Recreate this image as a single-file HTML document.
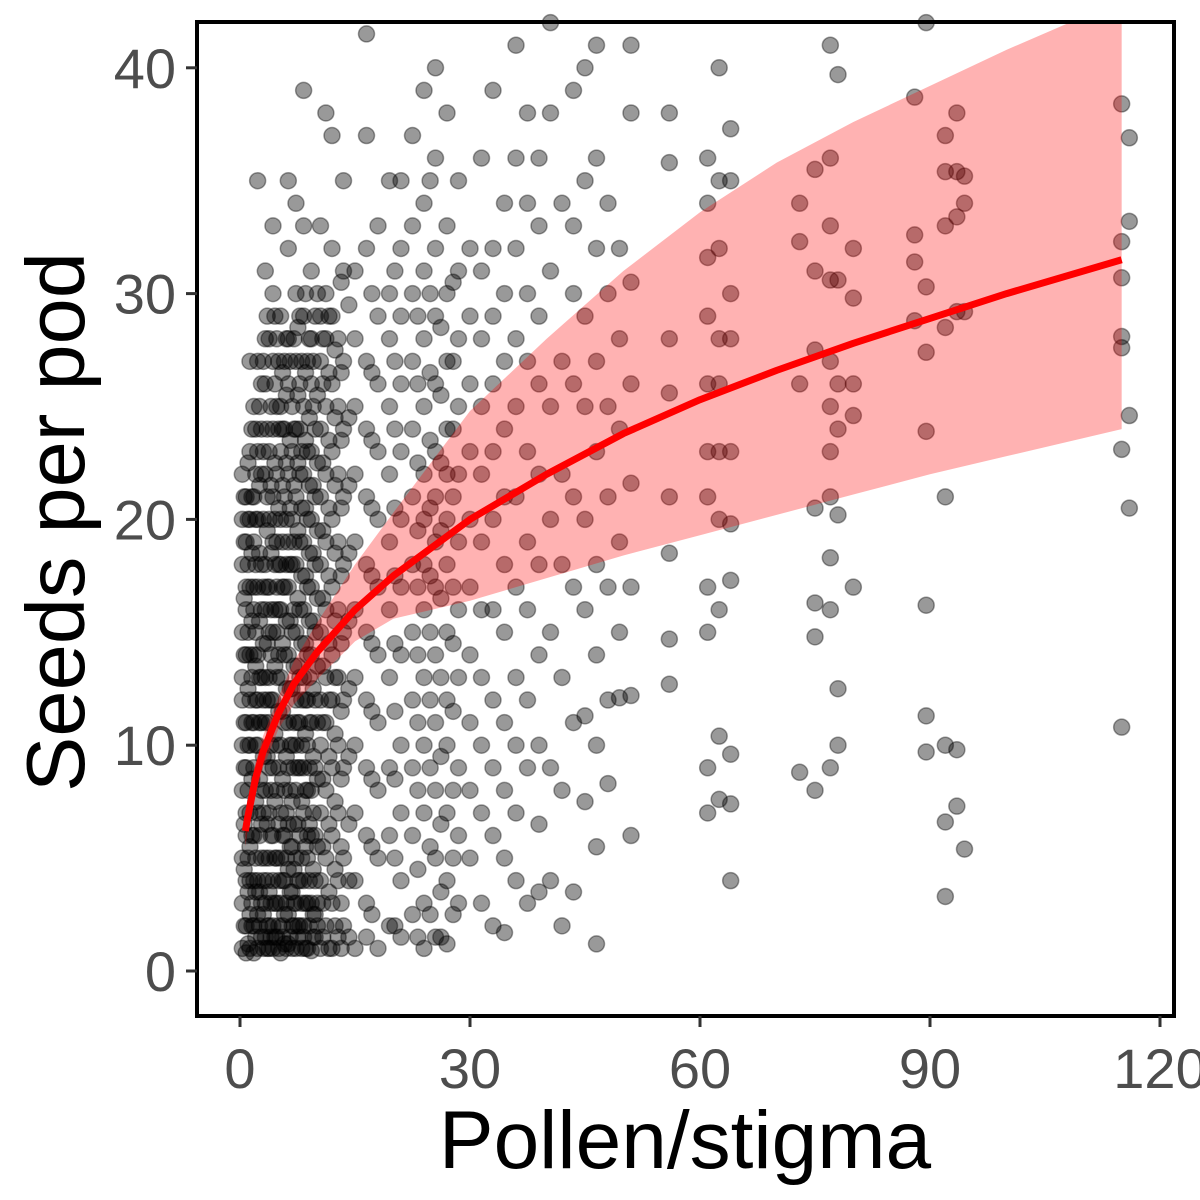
<!DOCTYPE html>
<html><head><meta charset="utf-8"><style>
html,body{margin:0;padding:0;background:#fff;}
svg{display:block;font-family:"Liberation Sans",Arial,sans-serif;}
</style></head><body>
<svg id="chart" width="1200" height="1200" viewBox="0 0 1200 1200" xmlns="http://www.w3.org/2000/svg">
<rect x="0" y="0" width="1200" height="1200" fill="#fff"/>
<g id="points"></g>
<g id="fit"></g>
<rect x="197" y="22" width="977" height="994" fill="none" stroke="#000" stroke-width="4"/>
<g id="axes"></g>
<text x="685" y="1168" font-size="82" text-anchor="middle" fill="#000">Pollen/stigma</text>
<text transform="translate(84,522) rotate(-90)" font-size="83" text-anchor="middle" fill="#000">Seeds per pod</text>
</svg>
<script>
const colX = [0.3,0.8,1.3,1.8,2.3,2.8,3.3,3.8,4.3,4.8,5.3,5.8,6.3,6.8,7.3,7.8,8.3,8.8,9.3,9.8,10.5,11.2,12,12.8,13.5,15,16.5,18,19.5,21,22.5,24,25.5,27,28.5,30,31.5,33,34.5,36,37.5,39,40.5,42,43.5,45,46.5,48,49.5,51,56,61,62.5,64,73,75,77,78,80,88,89.5,92,93.5,94.5,115,116];
const colYs = [
[1,3,5,8,10,12,13,15,18,20,22],
[0.8,2,4,6,7,9,11,14,16,17,19,21],
[1,2.5,4,5.5,7,10,12,14,17,20,23,27],
[0.8,2,4,6,9,11,14,16,17,19,21,25],
[1,2.5,4,7,10,12,14,17,20,23,27,35],
[1.5,3,5,6.5,8,11,13,16,18,22,24,26],
[1.5,3,5,8,11,13,16,18,22,26,28,31],
[1,2,3.5,5,7,9,11,13,15,17,20,23,28],
[1,2,4,6,9,12,15,19,21,24,27,30,33],
[1.5,3,5,8,10,13,15,17,19,22,25,28],
[0.8,3,5,7,10,13,16,18,20,23,25,29],
[1.2,2.5,4,6,8,11,14,17,21,24,27],
[1.2,2.5,4.5,6.5,9,11,14,17,19,22,26,28,32,35],
[1,2,3.5,5.5,7.5,10,12.5,15,18,20,23,25],
[1,3,5,8,10,12,15,18,21,24,27,30,34],
[2,4,6,9,11,13,16,19,22,24,26,29],
[1.5,2,4,7,9,13,16,19,22,25,29,33,39],
[1,3,5,6,8,10,12,14,17,20,23,27],
[0.9,3,6,8,11,14,17,20,23,26,28,31],
[1.5,2.5,4,6,9,12,15,18,21,24,29],
[1,4,7,10,12,15,18,21,24,27,29,33],
[2,5,8,11,13,16,19,22,25,28,30,38],
[1,3,6,9,12,14,17,20,23,26,29,32,37],
[1.5,4,7,10,13,16,19,22,25,28],
[2,5,9,12,15,18,21,24,27,31,35],
[1,4,7,10,13,16,19,22,25,28,31],
[1.5,3,6,9,12,15,18,21,24,27,32,37,41.5],
[1,5,8,11,14,17,20,23,26,29,33],
[2,6,9,13,16,19,22,25,28,30,35],
[1.5,4,7,10,14,17,20,23,26,29,32,35],
[2.5,6,9,12,15,18,21,24,27,30,33,37],
[1,3,7,10,13,16,18,20,22,25,28,31,34,39],
[1.5,5,8,11,14,17,19,21,23,26,29,32,36,40],
[1.2,4,7,10,12,15,18,20,22,24,27,30,33,38],
[3,6,9,13,16,19,22,25,28,31,35],
[5,8,11,14,17,20,23,26,29,32],
[3,7,10,13,16,19,22,25,28,31,36],
[2,6,9,12,16,20,23,26,29,32,39],
[1.7,5,8,11,15,18,21,24,27,30,34],
[4,7,10,13,17,21,25,28,32,36,41],
[3,9,12,16,19,23,27,30,34,38],
[3.5,6.5,10,14,18,22,26,29,33,36],
[4,9,15,20,25,31,38,42],
[2,8,13,18,22,27,34],
[3.5,11,17,21,26,30,33,39],
[7.5,11.3,16,20,25,29,35,40],
[1.2,5.5,10,14,18,23,27,32,36,41],
[8.3,12,17,21,25,30,34],
[12.1,15,19,24,28,32],
[6,12.2,17,21.6,26,30.5,38,41],
[12.7,14.7,18.5,21,25.6,28,35.8,38],
[7,9,15,17,21,23,26,29,31.6,34,36],
[7.6,10.4,16,20,23,26,28,32,35,40],
[4,7.4,9.6,17.3,19.8,23,28,30,35,37.3],
[8.8,26,32.3,34],
[8,14.8,16.3,20.5,27.5,31,35.5],
[9,16,18.3,21,23,25,27,30.6,33,36,41],
[10,12.5,20.2,24,26,30.6,39.7],
[17,24.6,26,29.8,32],
[28.8,31.4,32.6,38.7],
[9.7,11.3,16.2,23.9,27.4,30.3,42],
[3.3,6.6,10,21,28.5,33,35.4,37],
[7.3,9.8,29.2,33.4,35.4,38],
[5.4,29.2,34,35.2],
[10.8,23.1,27.6,28.1,30.7,32.3,38.4],
[20.5,24.6,33.2,36.9]
];
const denseX = [0.55,1.05,1.55,2.05,2.55,3.05,3.55,4.05,4.55,5.05,5.55,6.05,6.55,7.05,7.55,8.05,8.55,9.05,9.55,10.1,10.8,11.6,12.4,13.2,14.2,17.2,20.2,23.2,24.8,26.2,27.8];
const denseYs = [
[2,4.5,6.5,9,11,14,16.5,19,21],
[1.2,3.5,5,8,10,12.5,15,18,20,22.5],
[2,3,6,8.5,11,13,15.5,18.5,21,24],
[1.5,3.5,5,7.5,10,12,13.5,15,18,20,22,24],
[2,3.5,6,8.5,11,13,15.5,18.5,21.5,25],
[1,2.5,4,7,9.5,12,14.5,17,20,23,27],
[1,2,4,6.5,9.5,12,14.5,17,19.5,21,24,29],
[1.5,3,6,8,10,12,14,16,18.5,21.5,25],
[1.5,3,5,7.5,10.5,13.5,16,18,20,22.5,26,29],
[1,2,4,6.5,9,11.5,14,16,18,20.5,24,27],
[1.5,2,4,6,8.5,11.5,14.5,17,19,21.5,24,26.5],
[1,3,5,7,9.5,12.5,15.5,18,20,22.5,25.5,28],
[1.5,3.5,5.5,8,10,12.5,15.5,18,20.5,23.5,27],
[2,3,4.5,6.5,9,11,13.5,16,19,21.5,24,28],
[1.5,2,4,6.5,9,11,13.5,16.5,19.5,22.5,25.5,28.5],
[1,3,5,7.5,10,12,14.5,17.5,20.5,23,27],
[1,3,5.5,8,10.5,12,14.5,17.5,20.5,23.5,26.5,30],
[2,4,6.5,9,11,13,15.5,18.5,21.5,24.5,28],
[1.5,2.5,4.5,7,9.5,12.5,15.5,18.5,21.5,25,27],
[2,3,5.5,8.5,11,13.5,16.5,19.5,22.5,25.5,30],
[1.5,3,5.5,8.5,11,13.5,16.5,19.5,22.5,26,28],
[1,3.5,6.5,9.5,12,14.5,17.5,20.5,23.5,26.5,29],
[2,4.5,7.5,10.5,13,15.5,18.5,21.5,24.5,27.5],
[1,3,5.5,8.5,11.5,14.5,17.5,20.5,23.5,26.5,30.5],
[1.5,4,6.5,9.5,12.5,15.5,18.5,21.5,24.5,29.5],
[2.5,5.5,8.5,11.5,14.5,17.5,20.5,23.5,26.5,30],
[2,5,8.5,11.5,14.5,17.5,20.5,24,27,31],
[1.5,4.5,8,11,14,17,19.5,22.5,26,29],
[2.5,5.5,9,12,15,17.5,20.5,23.5,26.5,30,35],
[1.5,3.5,6.5,9.5,13,16.5,19.5,22.5,25.5,28.5],
[2.5,5,8,11.5,14.5,17,21,24,27,30.5]
];
const fitX = [0.7,1,2,3,5,7,10,15,20,30,40,50,60,70,80,90,100,115];
const fitY = [6.2,6.8,8.5,9.7,11.4,12.7,14.1,16,17.5,20,22,23.8,25.3,26.6,27.8,28.9,30,31.5];
const bandLo = [5.5,6.2,7.8,9,10.7,11.8,12.9,14.6,15.6,16.4,17.4,18.4,19.3,20.2,21.1,22,22.8,24];
const bandHi = [7,7.5,9.2,10.4,12.1,13.7,15.4,18,20.3,24.8,28,31,33.6,35.8,37.6,39.2,40.8,43];
const xTicks = [0,30,60,90,120];
const yTicks = [0,10,20,30,40];

const NS='http://www.w3.org/2000/svg';
const sx = v => 240 + v*7.6667;
const sy = v => 971 - v*22.58;
const pts = document.getElementById('points');
function drawCols(xs, yss){
  xs.forEach((x,i)=>{
    yss[i].forEach(y=>{
      const c=document.createElementNS(NS,'circle');
      c.setAttribute('cx',sx(x));c.setAttribute('cy',sy(y));c.setAttribute('r',8);
      c.setAttribute('fill','rgba(0,0,0,0.4)');c.setAttribute('stroke','rgba(0,0,0,0.38)');c.setAttribute('stroke-width','1.5');
      
      
      pts.appendChild(c);
    });
  });
}
drawCols(colX, colYs);
drawCols(denseX, denseYs);
const fit=document.getElementById('fit');
const clip=document.createElementNS(NS,'clipPath');clip.setAttribute('id','pc');
const cr=document.createElementNS(NS,'rect');cr.setAttribute('x',197);cr.setAttribute('y',22);cr.setAttribute('width',977);cr.setAttribute('height',994);
clip.appendChild(cr);fit.appendChild(clip);
let d='';
fitX.forEach((x,i)=>{d+=(i?'L':'M')+sx(x)+','+sy(bandHi[i]);});
for(let i=fitX.length-1;i>=0;i--){d+='L'+sx(fitX[i])+','+sy(bandLo[i]);}
const band=document.createElementNS(NS,'path');
band.setAttribute('d',d+'Z');band.setAttribute('fill','rgba(255,0,0,0.3)');band.setAttribute('clip-path','url(#pc)');


fit.appendChild(band);
let dl='';
fitX.forEach((x,i)=>{dl+=(i?'L':'M')+sx(x)+','+sy(fitY[i]);});
const line=document.createElementNS(NS,'path');
line.setAttribute('d',dl);line.setAttribute('fill','none');line.setAttribute('stroke','#ff0000');line.setAttribute('stroke-width','7');line.setAttribute('stroke-linejoin','round');


fit.appendChild(line);
const ax=document.getElementById('axes');
xTicks.forEach(t=>{
  const l=document.createElementNS(NS,'line');
  l.setAttribute('x1',sx(t));l.setAttribute('x2',sx(t));l.setAttribute('y1',1016);l.setAttribute('y2',1027);l.setAttribute('stroke','#333');l.setAttribute('stroke-width','3');
  
  
  ax.appendChild(l);
  const tx=document.createElementNS(NS,'text');
  tx.setAttribute('x',sx(t));tx.setAttribute('y',1088);tx.setAttribute('font-size','56');tx.setAttribute('text-anchor','middle');tx.setAttribute('fill','#4d4d4d');
  tx.textContent=t;
  
  
  ax.appendChild(tx);
});
yTicks.forEach(t=>{
  const l=document.createElementNS(NS,'line');
  l.setAttribute('x1',186);l.setAttribute('x2',197);l.setAttribute('y1',sy(t));l.setAttribute('y2',sy(t));l.setAttribute('stroke','#333');l.setAttribute('stroke-width','3');
  
  
  ax.appendChild(l);
  const tx=document.createElementNS(NS,'text');
  tx.setAttribute('x',176);tx.setAttribute('y',sy(t)+20);tx.setAttribute('font-size','56');tx.setAttribute('text-anchor','end');tx.setAttribute('fill','#4d4d4d');
  tx.textContent=t;
  
  
  ax.appendChild(tx);
});
</script>
</body></html>
